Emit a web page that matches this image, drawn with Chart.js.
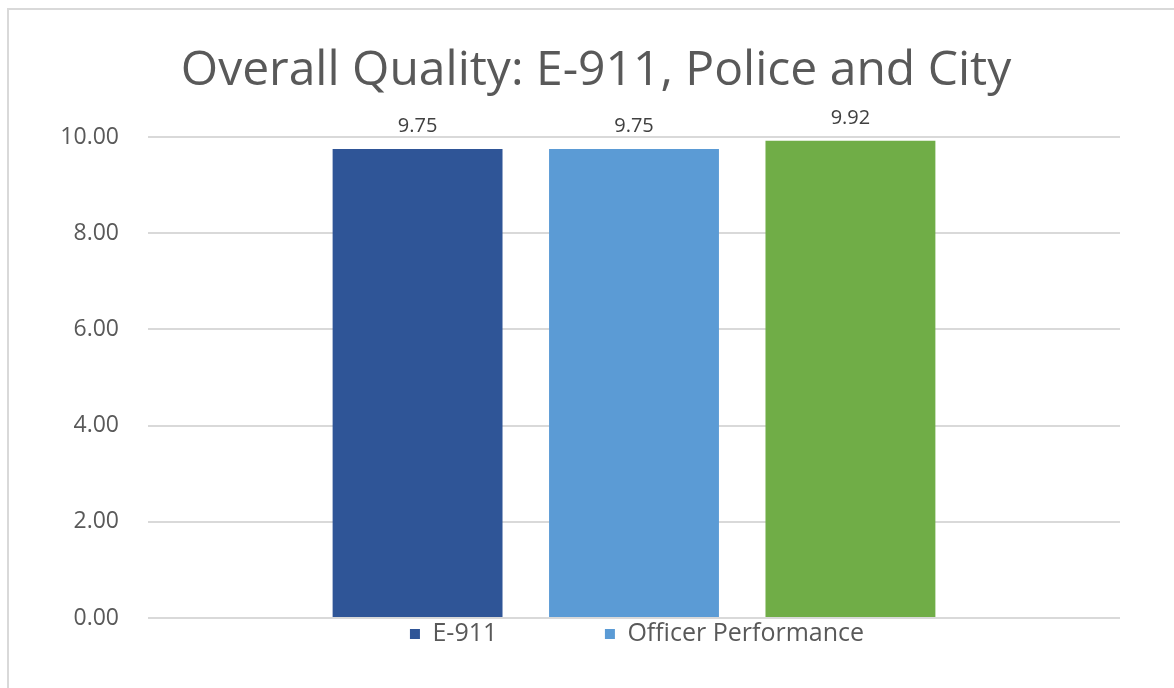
<!DOCTYPE html>
<html>
<head>
<meta charset="utf-8">
<script src="https://cdn.jsdelivr.net/npm/chart.js@4/dist/chart.umd.min.js"></script>
<style>
  html, body { margin: 0; padding: 0; background: #fff; }
  #wrap { position: relative; width: 1174px; height: 688px; overflow: hidden; }
  #frame { position: absolute; left: 7px; top: 8px; right: -10px; bottom: -10px;
           border-left: 2px solid #d9d9d9; border-top: 2px solid #d9d9d9; }
  canvas { position: absolute; left: 0; top: 0; }
</style>
</head>
<body>
<div id="wrap">
  <div id="frame"></div>
  <canvas id="chart" width="1174" height="688"></canvas>
</div>
<script>
const categories = [""];
const seriesNames = ["E-911", "Officer Performance", "City"];
const seriesValues = [[9.75], [9.75], [9.92]];
const seriesColors = ["#2f5597", "#5b9bd5", "#70ad47"];
const yTicks = [0, 2, 4, 6, 8, 10];

const textGray = "#595959";

// draws the value above each bar
const valueLabels = {
  id: "valueLabels",
  afterDatasetsDraw(chart) {
    const ctx = chart.ctx;
    ctx.save();
    ctx.font = "20px 'Open Sans'";
    ctx.fillStyle = "#404040";
    ctx.textAlign = "center";
    ctx.textBaseline = "alphabetic";
    chart.data.datasets.forEach((ds, i) => {
      chart.getDatasetMeta(i).data.forEach((bar, j) => {
        ctx.fillText(ds.data[j].toFixed(2), bar.x, bar.y - 17);
      });
    });
    ctx.restore();
  }
};

// legend sits centred under the plot, not under the whole canvas
const legendUnderPlot = {
  id: "legendUnderPlot",
  afterLayout(chart) {
    const lg = chart.legend;
    const shift = (chart.chartArea.left + chart.chartArea.right) / 2 - (lg.left + lg.right) / 2 + 3;
    lg.left += shift;
    lg.right += shift;
  }
};

const chart = new Chart(document.getElementById("chart"), {
  type: "bar",
  data: {
    labels: categories,
    datasets: seriesNames.map((name, i) => ({
      label: name,
      data: seriesValues[i],
      backgroundColor: seriesColors[i],
      categoryPercentage: 0.668,
      barPercentage: 0.785
    }))
  },
  options: {
    responsive: false,
    animation: false,
    layout: { padding: { left: 18, right: 0, top: 0, bottom: 31.5 } },
    plugins: {
      title: {
        display: true,
        text: "Overall Quality: E-911, Police and City",
        color: textGray,
        font: { family: "'Open Sans'", size: 48, weight: "normal", lineHeight: 1.2 },
        padding: { top: 43, bottom: 36.4 }
      },
      legend: {
        position: "bottom",
        labels: {
          color: textGray,
          font: { family: "'Open Sans'", size: 25 },
          boxWidth: 10,
          boxHeight: 10,
          padding: 3.5,
          filter: item => item.datasetIndex < 2,
          generateLabels: c => Chart.defaults.plugins.legend.labels.generateLabels(c).map(l => {
            if (l.datasetIndex === 0) l.text = l.text + "\u2003\u2003\u2003\u2003\u2009";
            return l;
          })
        }
      },
      tooltip: { enabled: false }
    },
    scales: {
      x: { display: false },
      y: {
        min: 0,
        max: 10,
        afterFit: s => { s.width = 130; },
        afterBuildTicks: s => { s.ticks = yTicks.map(v => ({ value: v })); },
        border: { display: false },
        grid: { color: "#d9d9d9", lineWidth: 2, drawTicks: false },
        ticks: {
          color: textGray,
          padding: 29,
          font: { family: "'Open Sans'", size: 23 },
          callback: v => Number(v).toFixed(2)
        }
      },
      // empty right-hand space so the title centres like the original
      yRight: {
        position: "right",
        afterFit: s => { s.width = 54; },
        border: { display: false },
        grid: { display: false },
        ticks: { display: false }
      }
    }
  },
  plugins: [valueLabels, legendUnderPlot]
});
</script>
</body>
</html>
